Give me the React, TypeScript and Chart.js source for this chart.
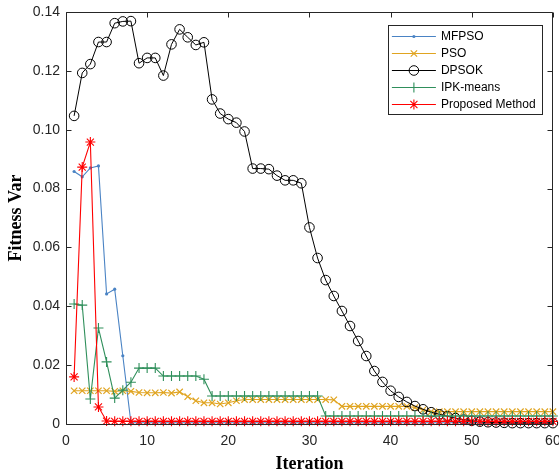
import React, { useEffect, useRef } from 'react';
import { Chart, registerables } from 'chart.js';
import { drawPoint } from 'chart.js/helpers';

Chart.register(...registerables);

const iterations = [
  1, 2, 3, 4, 5, 6, 7, 8, 9, 10, 11, 12, 13, 14, 15, 16, 17, 18, 19, 20,
  21, 22, 23, 24, 25, 26, 27, 28, 29, 30, 31, 32, 33, 34, 35, 36, 37, 38, 39, 40,
  41, 42, 43, 44, 45, 46, 47, 48, 49, 50, 51, 52, 53, 54, 55, 56, 57, 58, 59, 60,
];

const mfpso = [
  0.0858, 0.084, 0.087, 0.0877, 0.0442, 0.0458, 0.0232, 0.0004, 0.0004, 0.0004,
  0.0004, 0.0004, 0.0004, 0.0004, 0.0004, 0.0004, 0.0004, 0.0004, 0.0004, 0.0004,
  0.0004, 0.0004, 0.0004, 0.0004, 0.0004, 0.0004, 0.0004, 0.0004, 0.0004, 0.0004,
  0.0004, 0.0004, 0.0004, 0.0004, 0.0004, 0.0004, 0.0004, 0.0004, 0.0004, 0.0004,
  0.0004, 0.0004, 0.0004, 0.0004, 0.0004, 0.0004, 0.0004, 0.0004, 0.0004, 0.0004,
  0.0004, 0.0004, 0.0004, 0.0004, 0.0004, 0.0004, 0.0004, 0.0004, 0.0004, 0.0004,
];

const pso = [
  0.0113, 0.0113, 0.0113, 0.0113, 0.0113, 0.0111, 0.0113, 0.0111, 0.0107, 0.0106,
  0.0106, 0.0107, 0.0105, 0.0109, 0.0093, 0.0079, 0.0072, 0.0072, 0.0068, 0.0072,
  0.0079, 0.0083, 0.0083, 0.0083, 0.0083, 0.0083, 0.0083, 0.0083, 0.0083, 0.0083,
  0.0083, 0.0083, 0.0082, 0.006, 0.006, 0.006, 0.006, 0.006, 0.006, 0.006,
  0.006, 0.006, 0.0056, 0.0048, 0.0042, 0.0042, 0.0042, 0.0042, 0.0042, 0.0042,
  0.0042, 0.0042, 0.0042, 0.0042, 0.0042, 0.0042, 0.0042, 0.0042, 0.0042, 0.0042,
];

const dpsok = [
  0.1047, 0.1193, 0.1223, 0.1298, 0.1298, 0.1362, 0.1368, 0.1369, 0.1226, 0.1244,
  0.1244, 0.1184, 0.129, 0.1341, 0.1314, 0.1288, 0.1297, 0.1103, 0.1055, 0.1036,
  0.1024, 0.0994, 0.0868, 0.0868, 0.0866, 0.0844, 0.0828, 0.0828, 0.0818, 0.0668,
  0.0564, 0.0489, 0.0435, 0.0384, 0.0333, 0.0282, 0.0231, 0.018, 0.0143, 0.0113,
  0.0092, 0.0075, 0.0061, 0.005, 0.004, 0.0033, 0.0026, 0.002, 0.0015, 0.0011,
  0.0008, 0.0006, 0.0005, 0.0004, 0.0003, 0.0003, 0.0003, 0.0003, 0.0003, 0.0003,
];

const ipkMeans = [
  0.0408, 0.0404, 0.0085, 0.0326, 0.0211, 0.0088, 0.0115, 0.0142, 0.019, 0.019,
  0.019, 0.0163, 0.0163, 0.0163, 0.0163, 0.0163, 0.0152, 0.0095, 0.0095, 0.0095,
  0.0095, 0.0095, 0.0095, 0.0095, 0.0095, 0.0095, 0.0095, 0.0095, 0.0095, 0.0095,
  0.0095, 0.0027, 0.0027, 0.0027, 0.0027, 0.0027, 0.0027, 0.0027, 0.0027, 0.0027,
  0.0027, 0.0027, 0.0027, 0.0027, 0.0027, 0.0027, 0.0027, 0.0027, 0.0027, 0.0027,
  0.0027, 0.0027, 0.0027, 0.0027, 0.0027, 0.0027, 0.0027, 0.0027, 0.0027, 0.0027,
];

const proposed = [
  0.016, 0.0873, 0.0958, 0.0058, 0.001, 0.0009, 0.0009, 0.0009, 0.0009, 0.0009,
  0.0009, 0.0009, 0.0009, 0.0009, 0.0009, 0.0009, 0.0009, 0.0009, 0.0009, 0.0009,
  0.0009, 0.0009, 0.0009, 0.0009, 0.0009, 0.0009, 0.0009, 0.0009, 0.0009, 0.0009,
  0.0009, 0.0009, 0.0009, 0.0009, 0.0009, 0.0009, 0.0009, 0.0009, 0.0009, 0.0009,
  0.0009, 0.0009, 0.0009, 0.0009, 0.0009, 0.0009, 0.0009, 0.0009, 0.0009, 0.0009,
  0.0009, 0.0009, 0.0009, 0.0009, 0.0009, 0.0009, 0.0009, 0.0009, 0.0009, 0.0009,
];

const seriesNames = ['MFPSO', 'PSO', 'DPSOK', 'IPK-means', 'Proposed Method'];
const xTicks = [0, 10, 20, 30, 40, 50, 60];
const yTicks = [0, 0.02, 0.04, 0.06, 0.08, 0.1, 0.12, 0.14];

const AXIS_COLOR = '#262626';
const TICK_FONT = "'Liberation Sans', Arial, sans-serif";
const TITLE_FONT = "'Liberation Serif', 'Times New Roman', serif";

const boxPlugin = {
  id: 'matlabBox',
  afterDatasetsDraw(chart: any) {
    const { ctx, chartArea: a, scales } = chart;
    ctx.save();
    ctx.strokeStyle = AXIS_COLOR;
    ctx.lineWidth = 1;
    const L = Math.round(a.left) + 0.5;
    const R = Math.round(a.right) - 0.5;
    const T = Math.round(a.top) + 0.5;
    const B = Math.round(a.bottom) + 0.5;
    ctx.beginPath();
    ctx.rect(L, T, R - L, B - T);
    ctx.stroke();
    const tl = 5;
    ctx.beginPath();
    for (const v of xTicks) {
      const px = Math.round(scales.x.getPixelForValue(v)) + 0.5;
      ctx.moveTo(px, B);
      ctx.lineTo(px, B - tl);
      ctx.moveTo(px, T);
      ctx.lineTo(px, T + tl);
    }
    for (const v of yTicks) {
      const py = Math.round(scales.y.getPixelForValue(v)) + 0.5;
      ctx.moveTo(L, py);
      ctx.lineTo(L + tl, py);
      ctx.moveTo(R, py);
      ctx.lineTo(R - tl, py);
    }
    ctx.stroke();
    ctx.restore();
  },
};

const legendPlugin = {
  id: 'matlabLegend',
  afterDraw(chart: any) {
    const { ctx, chartArea: a } = chart;
    const left = a.right - 165;
    const top = a.top + 13;
    const width = 154;
    const height = 89;
    ctx.save();
    ctx.fillStyle = '#ffffff';
    ctx.fillRect(left, top, width, height);
    ctx.strokeStyle = AXIS_COLOR;
    ctx.lineWidth = 1;
    ctx.strokeRect(Math.round(left) + 0.5, Math.round(top) + 0.5, width, height);
    const step = 16.9;
    chart.data.datasets.forEach((ds: any, i: number) => {
      const y = Math.round(top + 11 + i * step) + 0.5;
      const x0 = left + 4;
      const x1 = left + 48;
      ctx.strokeStyle = ds.borderColor;
      ctx.lineWidth = ds.borderWidth;
      ctx.beginPath();
      ctx.moveTo(x0, y);
      ctx.lineTo(x1, y);
      ctx.stroke();
      ctx.fillStyle = ds.pointBackgroundColor;
      ctx.strokeStyle = ds.pointBorderColor;
      ctx.lineWidth = ds.pointBorderWidth;
      drawPoint(ctx, {
        pointStyle: ds.pointStyle,
        radius: ds.pointRadius,
        rotation: 0,
        borderWidth: ds.pointBorderWidth,
      } as any, (x0 + x1) / 2, y);
      ctx.fillStyle = '#000000';
      ctx.font = `12px ${TICK_FONT}`;
      ctx.textBaseline = 'middle';
      ctx.textAlign = 'left';
      ctx.fillText(ds.label, left + 53, y);
    });
    ctx.restore();
  },
};

function toPoints(values: number[]) {
  return iterations.map((x, i) => ({ x, y: values[i] }));
}

export default function App() {
  const canvasRef = useRef<HTMLCanvasElement | null>(null);

  useEffect(() => {
    document.body.style.margin = '0';
    const canvas = canvasRef.current;
    if (!canvas) return;
    const blue = '#4A83C4';
    const yellow = '#E0A420';
    const green = '#2F8F5B';
    const red = '#FF0000';
    const chart = new Chart(canvas, {
      type: 'line',
      data: {
        datasets: [
          {
            label: seriesNames[0],
            data: toPoints(mfpso),
            borderColor: blue,
            borderWidth: 1.1,
            pointStyle: 'circle',
            pointRadius: 1.6,
            pointBackgroundColor: blue,
            pointBorderColor: blue,
            pointBorderWidth: 0,
            order: 5,
          },
          {
            label: seriesNames[1],
            data: toPoints(pso),
            borderColor: yellow,
            borderWidth: 1.1,
            pointStyle: 'crossRot',
            pointRadius: 4.5,
            pointBackgroundColor: yellow,
            pointBorderColor: yellow,
            pointBorderWidth: 1.2,
            order: 4,
          },
          {
            label: seriesNames[2],
            data: toPoints(dpsok),
            borderColor: '#000000',
            borderWidth: 1,
            pointStyle: 'circle',
            pointRadius: 4.8,
            pointBackgroundColor: 'rgba(0,0,0,0)',
            pointBorderColor: '#000000',
            pointBorderWidth: 1,
            order: 3,
          },
          {
            label: seriesNames[3],
            data: toPoints(ipkMeans),
            borderColor: green,
            borderWidth: 1.1,
            pointStyle: 'cross',
            pointRadius: 5,
            pointBackgroundColor: green,
            pointBorderColor: green,
            pointBorderWidth: 1.1,
            order: 2,
          },
          {
            label: seriesNames[4],
            data: toPoints(proposed),
            borderColor: red,
            borderWidth: 1.1,
            pointStyle: 'star',
            pointRadius: 5,
            pointBackgroundColor: red,
            pointBorderColor: red,
            pointBorderWidth: 1.1,
            order: 1,
          },
        ] as any,
      },
      options: {
        responsive: false,
        animation: false,
        devicePixelRatio: 1,
        clip: false as any,
        layout: { padding: { top: 12, right: 5, left: 0, bottom: 0 } },
        plugins: {
          legend: { display: false },
          tooltip: { enabled: false },
        },
        elements: { line: { tension: 0 } },
        scales: {
          x: {
            type: 'linear',
            min: 0,
            max: 60,
            afterBuildTicks: (scale: any) => {
              scale.ticks = xTicks.map((v) => ({ value: v }));
            },
            afterFit: (scale: any) => {
              scale.height = 51;
              scale.paddingLeft = 0;
              scale.paddingRight = 0;
            },
            grid: { display: false, drawTicks: false },
            border: { display: false },
            ticks: {
              padding: 9,
              color: AXIS_COLOR,
              font: { family: TICK_FONT, size: 14 },
              maxRotation: 0,
              autoSkip: false,
            },
            title: {
              display: true,
              text: 'Iteration',
              color: '#000000',
              font: { family: TITLE_FONT, size: 18, weight: 'bold' },
              padding: { top: 0, bottom: 0 },
            },
          },
          y: {
            type: 'linear',
            min: 0,
            max: 0.14,
            afterBuildTicks: (scale: any) => {
              scale.ticks = yTicks.map((v) => ({ value: v }));
            },
            afterFit: (scale: any) => {
              scale.width = 66;
              scale.paddingTop = 0;
              scale.paddingBottom = 0;
            },
            grid: { display: false, drawTicks: false },
            border: { display: false },
            ticks: {
              padding: 6,
              color: AXIS_COLOR,
              font: { family: TICK_FONT, size: 14 },
              autoSkip: false,
            },
            title: {
              display: true,
              text: 'Fitness Var',
              color: '#000000',
              font: { family: TITLE_FONT, size: 18, weight: 'bold' },
              padding: { top: 6, bottom: 0 },
            },
          },
        },
      } as any,
      plugins: [boxPlugin, legendPlugin],
    });
    return () => {
      chart.destroy();
    };
  }, []);

  return (
    <div style={{ width: 559, height: 475 }}>
      <canvas ref={canvasRef} width={559} height={475} style={{ display: 'block' }} />
    </div>
  );
}
